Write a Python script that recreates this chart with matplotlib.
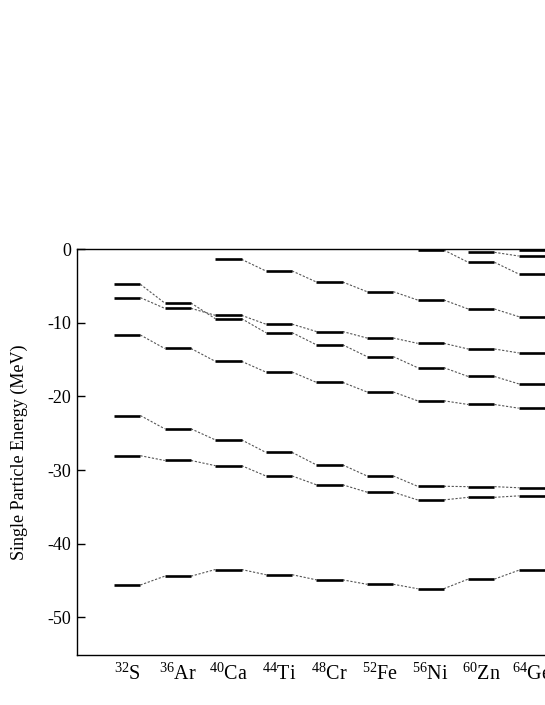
import matplotlib
matplotlib.use("Agg")
import matplotlib.pyplot as plt

plt.rcParams['font.family'] = ['Liberation Serif', 'DejaVu Serif']
plt.rcParams['mathtext.fontset'] = 'custom'
plt.rcParams['mathtext.rm'] = 'Liberation Serif'
plt.rcParams['mathtext.it'] = 'Liberation Serif:italic'

nuclei = ["32S", "36Ar", "40Ca", "44Ti", "48Cr", "52Fe", "56Ni", "60Zn", "64Ge"]
tick_labels = [r"$^{32}$S", r"$^{36}$Ar", r"$^{40}$Ca", r"$^{44}$Ti", r"$^{48}$Cr",
               r"$^{52}$Fe", r"$^{56}$Ni", r"$^{60}$Zn", r"$^{64}$Ge"]

# Orbital level energies (MeV); None = level not shown for that nucleus
s1_2 = [-45.6, -44.4, -43.5, -44.2, -44.9, -45.5, -46.1, -44.8, -43.6]
p3_2 = [-28.05, -28.7, -29.4, -30.8, -32.0, -33.0, -34.05, -33.7, -33.5]
p1_2 = [-22.6, -24.4, -25.9, -27.6, -29.3, -30.8, -32.2, -32.25, -32.4]
d5_2 = [-11.67, -13.5, -15.24, -16.7, -18.1, -19.4, -20.6, -21.1, -21.6]
d3_2 = [-4.79, -7.33, -9.45, -11.35, -13.0, -14.6, -16.1, -17.3, -18.3]
s1_2b = [-6.6, -8.05, -9.0, -10.2, -11.2, -12.08, -12.8, -13.57, -14.1]
f7_2 = [None, None, -1.4, -2.98, -4.48, -5.79, -6.92, -8.14, -9.18]
p3_2b = [None, None, None, None, None, None, -0.14, -1.8, -3.39]
f5_2 = [None, None, None, None, None, None, None, -0.45, -0.95]
p1_2b = [None, None, None, None, None, None, None, None, -0.14]

series = [s1_2, p3_2, p1_2, d5_2, d3_2, s1_2b, f7_2, p3_2b, f5_2, p1_2b]

fig = plt.figure(figsize=(5.45, 7.05), dpi=100)
ax = fig.add_axes([0.1407, 0.0709, 0.928, 0.5759])

xs = list(range(1, len(nuclei) + 1))
hw = 0.26
for levels in series:
    prev = None
    for x, e in zip(xs, levels):
        if e is None:
            prev = None
            continue
        ax.plot([x - hw, x + hw], [e, e], color='black', lw=1.9, solid_capstyle='butt', zorder=3)
        if prev is not None:
            px, pe = prev
            ax.plot([px + hw, x - hw], [pe, e], color='#555555', lw=0.8,
                    linestyle=(0, (2, 1.5)), zorder=2)
        prev = (x, e)

ax.set_xlim(0, 10)
ax.set_ylim(-55.1, 0)
ax.set_yticks([0, -10, -20, -30, -40, -50])
ax.set_yticklabels(["0", "-10", "-20", "-30", "-40", "-50"])
ax.set_xticks(xs)
ax.set_xticklabels(tick_labels, fontsize=14.5)
ax.tick_params(axis='x', length=0, pad=6)
ax.tick_params(axis='y', direction='in', length=6, width=1, labelsize=13, pad=4)
ax.set_ylabel("Single Particle Energy (MeV)", fontsize=13, labelpad=14)
for sp in ax.spines.values():
    sp.set_linewidth(1.0)

fig.savefig("out.png", dpi=100)
